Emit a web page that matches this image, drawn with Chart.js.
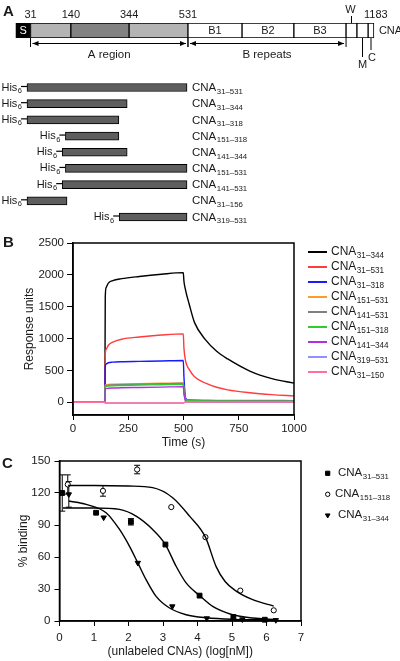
<!DOCTYPE html>
<html lang="en">
<head>
<meta charset="UTF-8" />
<title>CNA constructs and binding</title>
<script src="https://cdn.jsdelivr.net/npm/chart.js@4"></script>
<style>
  body { margin: 0; background: #fff; }
  .page { position: relative; width: 400px; height: 661px; overflow: hidden; }
  .panel { position: absolute; left: 0; width: 400px; }
</style>
</head>
<body>
<div class="page">
  <div class="panel" style="top:0;height:75px"><canvas id="schematic"></canvas></div>
  <div class="panel" style="top:75px;height:153px"><canvas id="constructs"></canvas></div>
  <div class="panel" style="top:228px;height:222px"><canvas id="sensorgram"></canvas></div>
  <div class="panel" style="top:450px;height:211px"><canvas id="competition"></canvas></div>
</div>
<script>
// ---------- A: domain map (schematic positions, not to scale) ----------
const domainEdges = [-4, 42, 168, 350, 534, 703, 865, 1028, 1062, 1097, 1115];
const domainNames = ["S", "", "", "", "B1", "B2", "B3", "W", "M", "C"];
const edgeLabels = ["", "31", "140", "344", "531", "", "", "", "", "", "1183"];
const regionNames = ["A region", "B repeats"];
const regionFrom = [1, 4];
const regionTo = [4, 7];

// His6 constructs, residue ranges
const constructStart = [31, 31, 31, 151, 141, 151, 141, 31, 319];
const constructEnd = [531, 344, 318, 318, 344, 531, 531, 156, 531];

// ---------- B: SPR sensorgrams ----------
const timeS = [0, 144, 146, 150, 160, 180, 220, 300, 400, 499, 502, 510, 525, 550, 600, 650, 700, 800, 900, 1000];
const ru31_344  = [0, 0, 1650, 1800, 1870, 1910, 1940, 1975, 2010, 2035, 1900, 1750, 1550, 1250, 980, 800, 680, 490, 370, 300];
const ru31_531  = [0, 0, 750, 830, 895, 945, 990, 1025, 1055, 1073, 850, 640, 520, 400, 300, 235, 195, 150, 120, 100];
const ru31_318  = [0, 0, 560, 600, 620, 630, 637, 642, 648, 655, 400, 60, 35, 28, 25, 22, 20, 18, 16, 15];
const ru151_531 = [0, 0, 265, 275, 280, 283, 287, 292, 298, 305, 180, 35, 28, 25, 22, 20, 18, 16, 15, 14];
const ru141_531 = [0, 0, 250, 262, 268, 272, 276, 282, 290, 298, 180, 45, 38, 35, 32, 30, 30, 28, 27, 26];
const ru151_318 = [0, 0, 240, 250, 256, 260, 264, 270, 275, 282, 160, 30, 22, 20, 18, 16, 15, 14, 13, 12];
const ru141_344 = [0, 0, 205, 215, 220, 224, 228, 232, 238, 245, 140, 15, 10, 8, 6, 5, 5, 4, 4, 4];
const ru319_531 = [0, 0, -12, -14, -14, -14, -14, -14, -14, -14, -6, 2, 3, 3, 3, 3, 3, 3, 3, 3];
const ru31_150  = [0, 0, -10, -12, -12, -12, -12, -12, -12, -12, -5, 5, 5, 5, 5, 5, 5, 5, 5, 5];
const sprNames = ["31–344", "31–531", "31–318", "151–531", "141–531", "151–318", "141–344", "319–531", "31–150"];
const sprSeries = [ru31_344, ru31_531, ru31_318, ru151_531, ru141_531, ru151_318, ru141_344, ru319_531, ru31_150];
const sprColors = ["#000000", "#ff3b3b", "#1a1aff", "#ff9a2e", "#7f7f7f", "#2ecc2e", "#b030e0", "#9090ff", "#ff6f9a"];
const timeTicks = [0, 250, 500, 750, 1000];
const ruTicks = [0, 500, 1000, 1500, 2000, 2500];

// ---------- C: competition binding ----------
const sqX = [0.08, 1.06, 2.07, 3.07, 4.06, 5.04, 5.95];
const sqY = [120, 101.5, 93, 71.7, 23.8, 3.8, 1.2];
const sqErr = [17, 0, 3, 0, 0, 0, 0];
const ciX = [0.24, 1.26, 2.25, 3.24, 4.23, 5.24, 6.21];
const ciY = [128, 122, 142, 106.8, 78.6, 28.5, 10];
const ciErr = [9, 5, 4, 0, 0, 0, 0];
const trX = [0.27, 1.28, 2.27, 3.27, 4.27, 5.3, 6.27];
const trY = [118.7, 97, 54.5, 13.7, 2.5, 1.5, 0.8];
const trErr = [12, 0, 0, 0, 0, 0, 0];
// fitted curves
const fitSqX = [0.1, 1, 1.74, 2.22, 2.7, 3.07, 3.38, 3.67, 4.06, 4.44, 5.02, 5.6, 6.3];
const fitSqY = [106, 106, 104.6, 98.3, 85.8, 71.7, 51.3, 35.7, 23.8, 13.7, 5.9, 2.8, 1.2];
const fitCiX = [0.25, 1, 2, 2.7, 3.28, 3.77, 4.23, 4.54, 4.8, 5.1, 5.6, 6.21];
const fitCiY = [127, 127, 126.5, 125, 115.6, 98.3, 78.6, 51, 37, 28.5, 20, 14];
const fitTrX = [0.27, 0.77, 1.35, 1.74, 2.03, 2.27, 2.51, 2.8, 3.19, 3.67, 4.25, 5.1, 6.3];
const fitTrY = [112.5, 109.3, 101.5, 85.8, 70, 54.5, 38.8, 23.1, 12.2, 5.9, 3.0, 1.5, 1];
const doseTicks = [0, 1, 2, 3, 4, 5, 6, 7];
const bindTicks = [0, 30, 60, 90, 120, 150];

const FONT = '"Liberation Sans", Arial, sans-serif';
const INK = "#1a1a1a";
Chart.defaults.font.family = FONT;
Chart.defaults.color = INK;

const pts = (xs, ys) => xs.map((x, i) => ({ x, y: ys[i] }));
const plain = (v) => String(v);

function sub(ctx, x, y, main, lower, size, align) {
  ctx.font = `${size}px ${FONT}`;
  const w1 = ctx.measureText(main).width;
  ctx.font = `${size * 0.68}px ${FONT}`;
  const w2 = ctx.measureText(lower).width;
  const x0 = align === "right" ? x - w1 - w2 : x;
  ctx.textAlign = "left";
  ctx.textBaseline = "middle";
  ctx.font = `${size}px ${FONT}`;
  ctx.fillText(main, x0, y);
  ctx.font = `${size * 0.68}px ${FONT}`;
  ctx.fillText(lower, x0 + w1 + 0.5, y + size * 0.32);
}

function letter(ctx, ch, x, y) {
  ctx.font = `bold 15px ${FONT}`;
  ctx.fillStyle = INK;
  ctx.textAlign = "left";
  ctx.textBaseline = "middle";
  ctx.fillText(ch, x, y);
}

function line(ctx, x1, y1, x2, y2) {
  ctx.beginPath();
  ctx.moveTo(x1, y1);
  ctx.lineTo(x2, y2);
  ctx.stroke();
}

const frame = {
  id: "frame",
  afterDraw(chart) {
    const { ctx, chartArea: a } = chart;
    ctx.save();
    ctx.strokeStyle = "#000";
    ctx.lineWidth = 1.5;
    ctx.strokeRect(a.left, a.top, a.right - a.left, a.bottom - a.top);
    ctx.restore();
  },
};

const base = {
  responsive: true,
  maintainAspectRatio: false,
  animation: false,
  events: [],
  plugins: { legend: { display: false }, tooltip: { enabled: false } },
};

// ---------- A1 ----------
const domainColors = ["#000", "#b4b4b4", "#828282", "#b4b4b4", "#fff", "#fff", "#fff", "#fff", "#fff", "#fff"];

new Chart(document.getElementById("schematic"), {
  type: "bar",
  data: {
    labels: ["CNA"],
    datasets: [{
      data: domainNames.map((n, i) => ({ y: "CNA", x: [domainEdges[i], domainEdges[i + 1]] })),
      backgroundColor: domainColors,
      borderColor: "#000",
      borderWidth: 1,
      borderSkipped: false,
      barThickness: 15,
    }],
  },
  options: {
    ...base,
    indexAxis: "y",
    layout: { padding: { top: 23, bottom: 37, left: 0, right: 0 } },
    scales: {
      x: { type: "linear", display: false, min: -53.4, max: 1196.6 },
      y: { display: false },
    },
  },
  plugins: [{
    id: "domainText",
    afterDraw(chart) {
      const { ctx, chartArea: a } = chart;
      const xs = chart.scales.x;
      const bars = chart.getDatasetMeta(0).data;
      ctx.save();
      letter(ctx, "A", 3, 12);
      ctx.fillStyle = INK;
      ctx.strokeStyle = "#000";
      ctx.lineWidth = 1;
      ctx.font = `11px ${FONT}`;
      ctx.textAlign = "center";
      ctx.textBaseline = "middle";
      edgeLabels.forEach((lab, i) => {
        if (lab) ctx.fillText(lab, xs.getPixelForValue(domainEdges[i]) + (i === edgeLabels.length - 1 ? 2 : 0), 15);
      });
      bars.forEach((b, i) => {
        const name = domainNames[i];
        const cx = (b.x + b.base) / 2;
        if (name === "S") {
          ctx.fillStyle = "#fff";
          ctx.fillText(name, cx, 31);
          ctx.fillStyle = INK;
        } else if (name === "W") {
          line(ctx, cx, 16, cx, a.top);
          ctx.fillText(name, cx - 1, 10);
        } else if (name === "M") {
          line(ctx, cx, a.bottom, cx, 57);
          ctx.fillText(name, cx, 65);
        } else if (name === "C") {
          line(ctx, cx, a.bottom, cx, 50);
          ctx.fillText(name, cx + 1, 58);
        } else if (name) {
          ctx.fillText(name, cx, 31);
        }
      });
      ctx.textAlign = "left";
      ctx.fillText("CNA", xs.getPixelForValue(domainEdges[domainEdges.length - 1]) + 5, 31);
      // region arrows
      const ay = 43.5;
      regionNames.forEach((name, r) => {
        const x1 = xs.getPixelForValue(domainEdges[regionFrom[r]]);
        const x2 = xs.getPixelForValue(domainEdges[regionTo[r]]);
        line(ctx, x1, a.bottom, x1, a.bottom + 9);
        line(ctx, x2, a.bottom, x2, a.bottom + 9);
        const s = x1 + 2, e = x2 - 2;
        line(ctx, s, ay, e, ay);
        ctx.beginPath();
        ctx.moveTo(s, ay); ctx.lineTo(s + 6, ay - 2.5); ctx.lineTo(s + 6, ay + 2.5); ctx.closePath();
        ctx.moveTo(e, ay); ctx.lineTo(e - 6, ay - 2.5); ctx.lineTo(e - 6, ay + 2.5); ctx.closePath();
        ctx.fillStyle = "#000";
        ctx.fill();
        ctx.fillStyle = INK;
        ctx.textAlign = "center";
        ctx.font = `11.5px ${FONT}`;
        ctx.fillText(name, (x1 + x2) / 2, 55);
      });
      ctx.restore();
    },
  }],
});

// ---------- A2 ----------
new Chart(document.getElementById("constructs"), {
  type: "bar",
  data: {
    labels: constructStart.map((s, i) => `${s}–${constructEnd[i]}`),
    datasets: [{
      data: constructStart.map((s, i) => [s, constructEnd[i]]),
      backgroundColor: "#5e5e5e",
      borderColor: "#000",
      borderWidth: 1,
      borderSkipped: false,
      barThickness: 8,
    }],
  },
  options: {
    ...base,
    indexAxis: "y",
    layout: { padding: { top: 4.4, bottom: 2.9, left: 0, right: 0 } },
    scales: {
      x: { type: "linear", display: false, min: -53.4, max: 1196.6 },
      y: { display: false, offset: true },
    },
  },
  plugins: [{
    id: "constructText",
    afterDraw(chart) {
      const { ctx } = chart;
      const xs = chart.scales.x;
      const labelX = xs.getPixelForValue(Math.max(...constructEnd)) + 5;
      ctx.save();
      ctx.fillStyle = INK;
      ctx.strokeStyle = "#000";
      ctx.lineWidth = 1.2;
      chart.getDatasetMeta(0).data.forEach((b, i) => {
        const left = Math.min(b.x, b.base);
        line(ctx, left - 6, b.y - 1, left, b.y - 1);
        sub(ctx, left - 5.5, b.y, "His", "6", 11, "right");
        sub(ctx, labelX, b.y + 0.5, "CNA", chart.data.labels[i], 11.5, "left");
      });
      ctx.restore();
    },
  }],
});

// ---------- B ----------
new Chart(document.getElementById("sensorgram"), {
  type: "line",
  data: {
    datasets: sprSeries.map((vals, i) => ({
      data: pts(timeS, vals),
      borderColor: sprColors[i],
      borderWidth: 1.4,
      pointRadius: 0,
      cubicInterpolationMode: "monotone",
      order: sprSeries.length - i,
    })),
  },
  options: {
    ...base,
    layout: { padding: { left: 18, right: 106, top: 15, bottom: 0 } },
    scales: {
      x: {
        type: "linear", min: 0, max: 1000,
        afterBuildTicks: (s) => { s.ticks = timeTicks.map((v) => ({ value: v })); },
        afterFit: (s) => { s.height = 35; },
        grid: { drawOnChartArea: false, tickLength: 5, color: "#000" },
        border: { color: "#000", width: 1.5 },
        ticks: { padding: 2, autoSkip: false, maxRotation: 0, font: { size: 11.5 }, callback: plain },
        title: { display: true, text: "Time (s)", font: { size: 12 }, padding: { top: 0, bottom: 0 } },
      },
      y: {
        type: "linear", min: -200, max: 2500,
        afterBuildTicks: (s) => { s.ticks = ruTicks.map((v) => ({ value: v })); },
        afterFit: (s) => { s.width = 55; },
        grid: { drawOnChartArea: false, tickLength: 6, color: "#000" },
        border: { color: "#000", width: 1.5 },
        ticks: { padding: 3, autoSkip: false, font: { size: 11.5 }, callback: plain },
        title: { display: true, text: "Response units", font: { size: 12 } },
      },
    },
  },
  plugins: [frame, {
    id: "sprLegend",
    afterDraw(chart) {
      const { ctx } = chart;
      ctx.save();
      letter(ctx, "B", 3, 15);
      ctx.fillStyle = INK;
      sprNames.forEach((n, i) => {
        const y = 24 + i * 15;
        ctx.strokeStyle = sprColors[i];
        ctx.lineWidth = 2;
        line(ctx, 308, y, 327, y);
        sub(ctx, 331, y, "CNA", n, 12, "left");
      });
      ctx.restore();
    },
  }],
});

// ---------- C ----------
const markerSets = [
  { x: sqX, y: sqY, err: sqErr, name: "31–531", style: "rect", radius: 3.4, fill: "#000", rot: 0 },
  { x: ciX, y: ciY, err: ciErr, name: "151–318", style: "circle", radius: 2.6, fill: "#fff", rot: 0 },
  { x: trX, y: trY, err: trErr, name: "31–344", style: "triangle", radius: 3.1, fill: "#000", rot: 180 },
];
const fits = [pts(fitSqX, fitSqY), pts(fitCiX, fitCiY), pts(fitTrX, fitTrY)];

new Chart(document.getElementById("competition"), {
  type: "scatter",
  data: {
    datasets: [
      ...fits.map((d) => ({
        data: d, showLine: true, borderColor: "#000", borderWidth: 1.4,
        pointRadius: 0, cubicInterpolationMode: "monotone",
      })),
      ...markerSets.map((m) => ({
        data: pts(m.x, m.y), pointStyle: m.style, pointRadius: m.radius,
        pointRotation: m.rot, pointBackgroundColor: m.fill,
        pointBorderColor: "#000", pointBorderWidth: 1,
      })),
    ],
  },
  options: {
    ...base,
    clip: false,
    layout: { padding: { left: 12, right: 99, top: 11, bottom: 0 } },
    scales: {
      x: {
        type: "linear", min: 0, max: 7,
        afterBuildTicks: (s) => { s.ticks = doseTicks.map((v) => ({ value: v })); },
        afterFit: (s) => { s.height = 40; },
        grid: { drawOnChartArea: false, tickLength: 5, color: "#000" },
        border: { color: "#000", width: 1.5 },
        ticks: { padding: 5, autoSkip: false, maxRotation: 0, font: { size: 11.5 }, callback: plain },
        title: { display: true, text: "(unlabeled CNAs) (log[nM])", font: { size: 12 }, padding: { top: 0, bottom: 2 } },
      },
      y: {
        type: "linear", min: 0, max: 150,
        afterBuildTicks: (s) => { s.ticks = bindTicks.map((v) => ({ value: v })); },
        afterFit: (s) => { s.width = 47.5; },
        grid: { drawOnChartArea: false, tickLength: 5, color: "#000" },
        border: { color: "#000", width: 1.5 },
        ticks: { padding: 4, autoSkip: false, font: { size: 11.5 }, callback: plain },
        title: { display: true, text: "% binding", font: { size: 12 } },
      },
    },
  },
  plugins: [frame, {
    id: "errorBars",
    beforeDatasetsDraw(chart) {
      const { ctx } = chart;
      const xs = chart.scales.x, ys = chart.scales.y;
      ctx.save();
      ctx.strokeStyle = "#000";
      ctx.lineWidth = 1;
      markerSets.forEach((m) => {
        m.x.forEach((xv, i) => {
          if (!m.err[i]) return;
          const px = xs.getPixelForValue(xv);
          const top = ys.getPixelForValue(m.y[i] + m.err[i]);
          const bot = ys.getPixelForValue(m.y[i] - m.err[i]);
          line(ctx, px, top, px, bot);
          line(ctx, px - 3, top, px + 3, top);
          line(ctx, px - 3, bot, px + 3, bot);
        });
      });
      ctx.restore();
    },
  }, {
    id: "bindLegend",
    afterDraw(chart) {
      const { ctx } = chart;
      ctx.save();
      letter(ctx, "C", 2, 14);
      ctx.fillStyle = INK;
      markerSets.forEach((m, i) => {
        const y = 23.3 + i * 21;
        ctx.fillStyle = m.fill;
        ctx.strokeStyle = "#000";
        ctx.lineWidth = 1;
        Chart.helpers.drawPoint(ctx, { pointStyle: m.style, radius: m.radius - 0.4, rotation: m.rot, borderWidth: 1 }, 327.7, y);
        ctx.fillStyle = INK;
        sub(ctx, m.style === "circle" ? 335 : 338, y, "CNA", m.name, 11.5, "left");
      });
      ctx.restore();
    },
  }],
});
</script>
</body>
</html>
